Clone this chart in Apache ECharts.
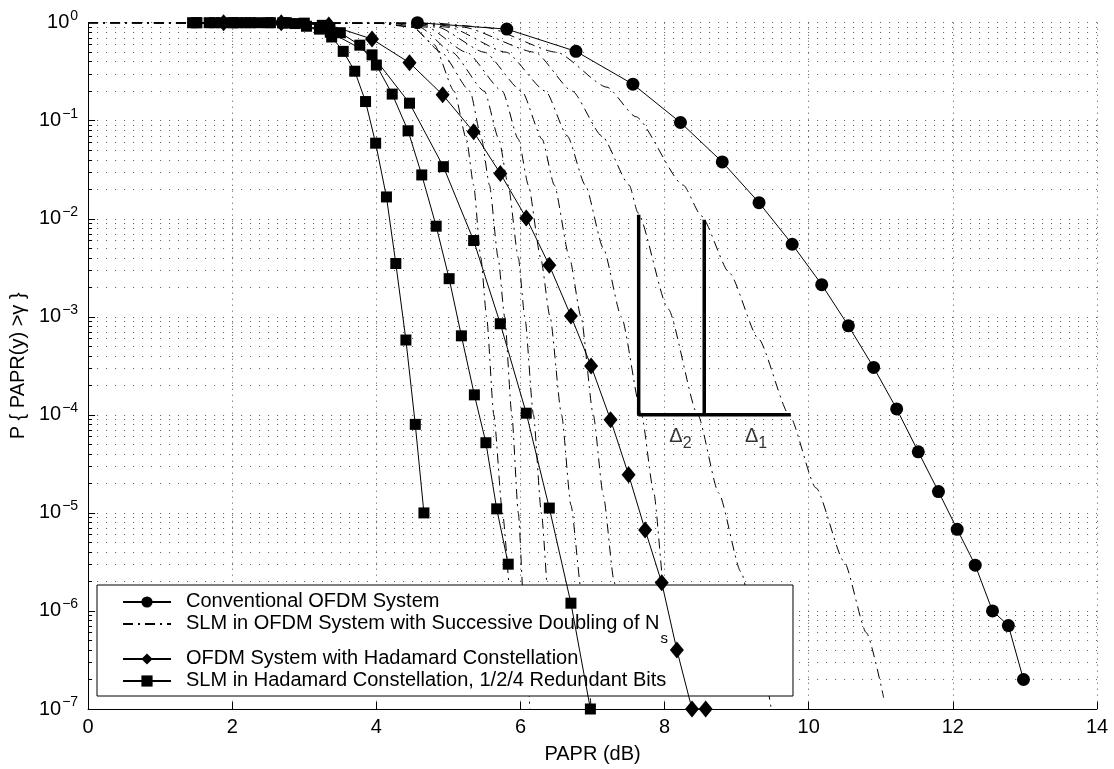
<!DOCTYPE html>
<html><head><meta charset="utf-8">
<script src="https://cdn.jsdelivr.net/npm/echarts@6/dist/echarts.min.js"></script>
<style>html,body{margin:0;padding:0;background:#fff}#c{width:1114px;height:769px}</style>
</head><body><div id="c"></div>
<script>
// ---------- data (x = PAPR in dB, p = probability) ----------
const xTicks = [0, 2, 4, 6, 8, 10, 12, 14];

const convX = [4.57, 5.81, 6.77, 7.56, 8.22, 8.80, 9.31, 9.77, 10.18, 10.55, 10.90, 11.22, 11.52, 11.80, 12.06, 12.31, 12.55, 12.77, 12.98];
const convP = [1.0, 0.86, 0.51, 0.236, 0.096, 0.038, 0.0146, 0.0055, 0.00213, 8.1e-4, 3.05e-4, 1.15e-4, 4.2e-5, 1.65e-5, 6.8e-6, 2.93e-6, 1.0e-6, 7.1e-7, 2.0e-7];

const hadX = [1.88, 2.68, 3.34, 3.94, 4.46, 4.92, 5.35, 5.72, 6.08, 6.40, 6.70, 6.98, 7.25, 7.50, 7.73, 7.96, 8.17, 8.38, 8.57];
const hadP = [1, 1, 0.95, 0.68, 0.39, 0.184, 0.077, 0.029, 0.0102, 3.35e-3, 1.02e-3, 3.15e-4, 8.9e-5, 2.45e-5, 6.7e-6, 1.94e-6, 4e-7, 1e-7, 1e-7];

// SLM in Hadamard constellation, three curves (1/2/4 redundant bits)
const slmHadAX = [1.51, 1.68, 1.85, 2.02, 2.19, 2.36, 2.53, 2.70, 2.87, 3.03, 3.21, 3.38, 3.54, 3.70, 3.85, 3.99, 4.14, 4.27, 4.41, 4.54, 4.66];
const slmHadAP = [1, 1, 1, 1, 1, 1, 1, 0.995, 0.98, 0.92, 0.86, 0.715, 0.51, 0.32, 0.157, 0.059, 0.0167, 3.5e-3, 5.8e-4, 8.0e-5, 1.0e-5];
const slmHadBX = [1.50, 1.75, 2.00, 2.25, 2.50, 2.75, 3.00, 3.25, 3.50, 3.77, 4.00, 4.22, 4.44, 4.63, 4.83, 5.01, 5.18, 5.36, 5.52, 5.67, 5.83];
const slmHadBP = [1, 1, 1, 1, 1, 1, 0.99, 0.94, 0.79, 0.59, 0.37, 0.187, 0.079, 0.028, 8.4e-3, 2.45e-3, 6.4e-4, 1.6e-4, 5.2e-5, 1.1e-5, 3.0e-6];
const slmHadCX = [1.45, 2.08, 2.72, 3.36, 3.94, 4.46, 4.93, 5.35, 5.72, 6.08, 6.40, 6.70, 6.97];
const slmHadCP = [1, 1, 0.995, 0.80, 0.47, 0.151, 0.034, 6.0e-3, 8.5e-4, 1.04e-4, 1.12e-5, 1.2e-6, 1e-7];

// SLM in OFDM, successive doubling of Ns (2 ... 256)
const slmNs2 = [[0,1],[4.8,0.99],[5.5,0.9],[6.5,0.5],[7.2,0.22],[7.6,0.11],[8.26,0.022],[8.51,0.0107],[8.9,2.8e-3],[9.3,6e-4],[9.73,1e-4],[10.1,1.8e-5],[10.49,3.2e-6],[10.8,6e-7],[11.04,1.3e-7]];
const slmNs4 = [[0,1],[4.6,0.99],[5.2,0.9],[6.2,0.5],[6.72,0.2],[7.13,0.07],[7.51,0.022],[7.63,0.0115],[8.05,1.2e-3],[8.46,1e-4],[8.75,1.6e-5],[9.06,2.5e-6],[9.3,4.5e-7],[9.48,1e-7]];
const slmNs8 = [[0,1],[4.5,0.99],[5.0,0.9],[5.8,0.5],[6.35,0.2],[6.65,0.07],[6.90,0.022],[7.15,5e-3],[7.4,1e-3],[7.68,1e-4],[7.85,1.6e-5],[8.0,1.5e-6],[8.1,3e-7]];
const slmNs16 = [[0,1],[4.4,0.99],[4.85,0.9],[5.5,0.5],[6.02,0.2],[6.3,0.065],[6.47,0.022],[6.68,4e-3],[6.84,1e-3],[7.01,1e-4],[7.15,1.5e-5],[7.3,2e-6],[7.4,4e-7]];
const slmNs32 = [[0,1],[4.3,0.99],[4.7,0.9],[5.25,0.5],[5.75,0.2],[5.97,0.065],[6.11,0.022],[6.28,4e-3],[6.41,1e-3],[6.57,1e-4],[6.7,1.2e-5],[6.85,1.5e-6],[6.98,1e-7]];
const slmNs64 = [[0,1],[4.2,0.99],[4.6,0.9],[5.05,0.5],[5.5,0.2],[5.7,0.065],[5.83,0.022],[5.97,4e-3],[6.06,1e-3],[6.18,1e-4],[6.29,1e-5],[6.4,1e-6],[6.47,3e-7]];
const slmNs128 = [[0,1],[4.1,0.99],[4.5,0.9],[4.9,0.5],[5.3,0.2],[5.46,0.065],[5.57,0.022],[5.69,4e-3],[5.78,1e-3],[5.88,1e-4],[5.97,1e-5],[6.05,1e-6],[6.13,1e-7]];
const slmNs256 = [[0,1],[4.0,0.99],[4.5,0.9],[4.8,0.6],[5.08,0.2],[5.25,0.065],[5.35,0.022],[5.45,4e-3],[5.53,1e-3],[5.63,1e-4],[5.75,1e-5],[5.88,1e-6],[5.95,4e-7]];

// Delta annotation (data coordinates)
const delta2Bar = [[7.64, 0.011], [7.64, 1e-4], [9.75, 1e-4]];
const delta1Bar = [[8.55, 0.0098], [8.55, 1e-4]];
const deltaLabels = [[8.22, 6e-5, '2'], [9.27, 6e-5, '1']];

// ---------- names ----------
const N_CONV = 'Conventional OFDM System';
const N_SLM = 'SLM in OFDM System with Successive Doubling of Ns';
const N_HAD = 'OFDM System with Hadamard Constellation';
const N_SLMH = 'SLM in Hadamard Constellation, 1/2/4 Redundant Bits';

const FONT = '"Liberation Sans", Arial, Helvetica, sans-serif';
const zip = (xs, ps) => xs.map((x, i) => [x, ps[i]]);

const dashStyle = { color: '#000', width: 1, type: [10, 5, 2, 5] };
const slmCurves = [slmNs2, slmNs4, slmNs8, slmNs16, slmNs32, slmNs64, slmNs128, slmNs256];

const series = [];
slmCurves.forEach(c => series.push({
  name: N_SLM, type: 'line', data: c, symbol: 'none', smooth: 0.2, smoothMonotone: 'x',
  itemStyle: { color: 'rgba(0,0,0,0)', borderColor: 'rgba(0,0,0,0)', borderWidth: 0 },
  lineStyle: dashStyle, z: 2
}));
series.push({
  name: N_CONV, type: 'line', data: zip(convX, convP), symbol: 'circle', symbolSize: 13,
  itemStyle: { color: '#000' }, lineStyle: { color: '#000', width: 1 }, z: 4
});
series.push({
  name: N_HAD, type: 'line', data: zip(hadX, hadP), symbol: 'diamond', symbolSize: [14, 17],
  itemStyle: { color: '#000' }, lineStyle: { color: '#000', width: 1 }, z: 4
});
[[slmHadAX, slmHadAP], [slmHadBX, slmHadBP], [slmHadCX, slmHadCP]].forEach(([xs, ps]) => series.push({
  name: N_SLMH, type: 'line', data: zip(xs, ps), symbol: 'rect', symbolSize: 11,
  itemStyle: { color: '#000' }, lineStyle: { color: '#000', width: 1 }, z: 4
}));
series.push({
  name: 'delta2', type: 'line', data: delta2Bar, symbol: 'none',
  lineStyle: { color: '#000', width: 3.5 }, z: 5, silent: true
});
series.push({
  name: 'delta1', type: 'line', data: delta1Bar, symbol: 'none',
  lineStyle: { color: '#000', width: 3.5 }, z: 5, silent: true
});
series.push({
  name: 'deltaText', type: 'scatter', symbolSize: 0, silent: true,
  data: deltaLabels.map(d => ({ value: [d[0], d[1]], sub: d[2] })),
  label: {
    show: true, position: 'inside',
    formatter: p => '{d|Δ}{s|' + p.data.sub + '}',
    rich: {
      d: { fontFamily: FONT, fontSize: 20, color: '#000', lineHeight: 20, verticalAlign: 'top' },
      s: { fontFamily: FONT, fontSize: 16, color: '#000', lineHeight: 16, verticalAlign: 'top', padding: [9, 0, 0, 0] }
    }
  }
});

const gridDot = { color: '#555', width: 1, type: [1, 8] };

const option = {
  animation: false,
  backgroundColor: '#fff',
  grid: { left: 85, right: 17, top: 22.7, bottom: 58.3, containLabel: false },
  xAxis: {
    type: 'value', min: 0, max: 14, interval: 2,
    name: 'PAPR (dB)', nameLocation: 'middle', nameGap: 35,
    nameTextStyle: { fontFamily: FONT, fontSize: 20, color: '#000' },
    axisLine: { lineStyle: { color: '#000', width: 1 } },
    axisTick: { inside: true, length: 7, lineStyle: { color: '#000' } },
    axisLabel: { fontFamily: FONT, fontSize: 20, color: '#000', margin: 8,
      formatter: v => xTicks.indexOf(v) >= 0 ? String(v) : '' },
    splitLine: { show: true, lineStyle: { color: '#555', width: 1, type: [1, 5] } }
  },
  yAxis: {
    type: 'log', logBase: 10, min: 1e-7, max: 1, interval: 1,
    name: 'P { PAPR(y) >γ }', nameLocation: 'middle', nameGap: 58, nameRotate: 90,
    nameTextStyle: { fontFamily: FONT, fontSize: 20, color: '#000' },
    axisLine: { show: true, lineStyle: { color: '#000', width: 1 } },
    axisTick: { show: true, inside: true, length: 7, lineStyle: { color: '#000' } },
    minorTick: { show: true, splitNumber: 9, length: 4, lineStyle: { color: '#000' } },
    splitLine: { show: true, lineStyle: gridDot },
    minorSplitLine: { show: true, lineStyle: gridDot },
    axisLabel: {
      margin: 10,
      formatter: v => {
        const e = Math.round(Math.log10(v));
        return '{b|10}{e|' + (e === 0 ? '0' : '\u2212' + (-e)) + '}';
      },
      rich: {
        b: { fontFamily: FONT, fontSize: 20, color: '#000', lineHeight: 20, verticalAlign: 'bottom' },
        e: { fontFamily: FONT, fontSize: 14, color: '#000', lineHeight: 14, verticalAlign: 'bottom', padding: [0, 0, 10, 1] }
      }
    }
  },
  legend: {
    data: [N_CONV, N_SLM, N_HAD, N_SLMH],
    orient: 'vertical', left: 97, top: 585,
    padding: [6, 125, 6, 25], itemGap: 2, itemWidth: 48, itemHeight: 14,
    backgroundColor: '#fff', borderColor: '#000', borderWidth: 1, borderRadius: 0,
    selectedMode: false,
    formatter: n => n === N_SLM ? '{t|SLM in OFDM System with Successive Doubling of N}{s|s}' : '{t|' + n + '}',
    textStyle: {
      fontFamily: FONT, fontSize: 20, color: '#000',
      rich: {
        t: { fontFamily: FONT, fontSize: 20, color: '#000', lineHeight: 22, verticalAlign: 'top', padding: [0, 0, 0, 10] },
        s: { fontFamily: FONT, fontSize: 15, color: '#000', lineHeight: 15, verticalAlign: 'top', padding: [18, 0, 0, 1] }
      }
    }
  },
  series: series
};

const chart = echarts.init(document.getElementById('c'), null, { renderer: 'canvas' });
chart.setOption(option);
</script></body></html>
